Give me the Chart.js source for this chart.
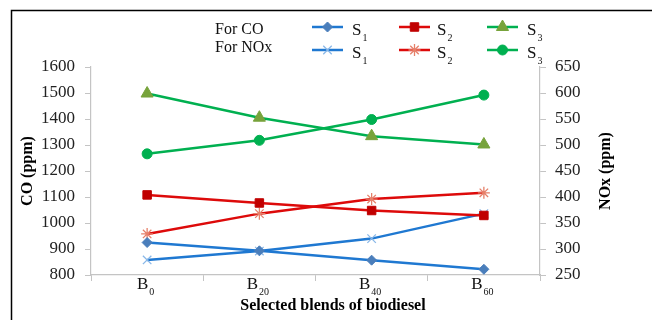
<!DOCTYPE html>
<html>
<head>
<meta charset="utf-8">
<script src="https://cdn.jsdelivr.net/npm/chart.js@4/dist/chart.umd.min.js"></script>
<style>
html,body{margin:0;padding:0;background:#fff;}
#wrap{position:relative;width:652px;height:320px;}
canvas{display:block;}
</style>
</head>
<body>
<div id="wrap"><canvas id="c" width="652" height="320"></canvas></div>
<script>
// ---- data ----
const categories = ['B0', 'B20', 'B40', 'B60'];
const coS1 = [925, 893, 857, 822];
const coS2 = [1108, 1077, 1048, 1029];
const coS3 = [1498, 1405, 1334, 1302];
const noxS1 = [279, 296, 320, 368];
const noxS2 = [329, 368, 396, 408];
const noxS3 = [483, 509, 549, 596];
const coTicks = {min: 800, max: 1600, step: 100};
const noxTicks = {min: 250, max: 650, step: 50};
const seriesNames = ['S1', 'S2', 'S3'];
const groupNames = ['For CO', 'For NOx'];
const axisTitles = {x: 'Selected blends of biodiesel', yl: 'CO (ppm)', yr: 'NOx (ppm)'};

const SERIF = '"Liberation Serif", "Times New Roman", serif';
const BLUE = '#1f78d1', RED = '#dd0a0a', GREEN = '#00b050';

const datasets = [
  {label: 'CO S1', data: coS1, yAxisID: 'yl', borderColor: BLUE, pointStyle: 'rectRot', pointRadius: 5,
   pointBackgroundColor: '#4a7ebb', pointBorderColor: '#4a7ebb', pointBorderWidth: 1},
  {label: 'CO S2', data: coS2, yAxisID: 'yl', borderColor: RED, pointStyle: 'rect', pointRadius: 6,
   pointBackgroundColor: '#c00000', pointBorderColor: '#c00000', pointBorderWidth: 1},
  {label: 'CO S3', data: coS3, yAxisID: 'yl', borderColor: GREEN, pointStyle: 'triangle', pointRadius: 7,
   pointBackgroundColor: '#77a33b', pointBorderColor: '#77a33b', pointBorderWidth: 1},
  {label: 'NOx S1', data: noxS1, yAxisID: 'yr', borderColor: BLUE, pointStyle: 'crossRot', pointRadius: 6,
   pointBackgroundColor: '#8ab8e8', pointBorderColor: '#8ab8e8', pointBorderWidth: 1.3},
  {label: 'NOx S2', data: noxS2, yAxisID: 'yr', borderColor: RED, pointStyle: 'star', pointRadius: 6,
   pointBackgroundColor: '#e6806a', pointBorderColor: '#e6806a', pointBorderWidth: 1.3},
  {label: 'NOx S3', data: noxS3, yAxisID: 'yr', borderColor: GREEN, pointStyle: 'circle', pointRadius: 5,
   pointBackgroundColor: GREEN, pointBorderColor: GREEN, pointBorderWidth: 1}
];
datasets.forEach(d => { d.borderWidth = 2.5; d.tension = 0; d.fill = false; });

function drawMarker(ctx, ds, x, y) {
  const opts = {pointStyle: ds.pointStyle, radius: ds.pointRadius, rotation: 0, borderWidth: ds.pointBorderWidth};
  ctx.save();
  ctx.fillStyle = ds.pointBackgroundColor;
  ctx.strokeStyle = ds.pointBorderColor;
  ctx.lineWidth = ds.pointBorderWidth;
  if (Chart.helpers && Chart.helpers.drawPoint) {
    Chart.helpers.drawPoint(ctx, opts, x, y);
  } else {
    ctx.beginPath(); ctx.arc(x, y, ds.pointRadius, 0, Math.PI * 2); ctx.fill(); ctx.stroke();
  }
  ctx.restore();
}

function drawSub(ctx, base, sub, x, y, bigSize, smallSize, align, bold) {
  const w = bold ? 'bold ' : '';
  ctx.font = w + bigSize + 'px ' + SERIF;
  const wb = ctx.measureText(base).width;
  ctx.font = w + smallSize + 'px ' + SERIF;
  const ws = ctx.measureText(sub).width;
  let x0 = x;
  if (align === 'center') x0 = x - (wb + ws) / 2;
  ctx.textBaseline = 'middle';
  ctx.textAlign = 'left';
  ctx.font = w + bigSize + 'px ' + SERIF;
  ctx.fillText(base, x0, y);
  ctx.font = w + smallSize + 'px ' + SERIF;
  ctx.fillText(sub, x0 + wb + 1, y + bigSize * 0.42);
}

const decor = {
  id: 'decor',
  afterDraw(chart) {
    const ctx = chart.ctx;
    const xs = chart.scales.x, yl = chart.scales.yl, yr = chart.scales.yr;
    ctx.save();
    ctx.fillStyle = '#111';
    // x tick labels with subscripts
    categories.forEach((c, i) => {
      const px = xs.getPixelForTick(i);
      drawSub(ctx, c.charAt(0), c.slice(1), px - 2, xs.top + 10, 17, 10, 'center', false);
    });
    // axis titles
    ctx.fillStyle = '#000';
    ctx.font = 'bold 16px ' + SERIF;
    ctx.textAlign = 'center';
    ctx.textBaseline = 'middle';
    ctx.fillText(axisTitles.x, 333, 306);
    ctx.save();
    ctx.translate(28, (yl.top + yl.bottom) / 2);
    ctx.rotate(-Math.PI / 2);
    ctx.fillText(axisTitles.yl, 0, 0);
    ctx.restore();
    ctx.save();
    ctx.translate(606, (yr.top + yr.bottom) / 2);
    ctx.rotate(-Math.PI / 2);
    ctx.fillText(axisTitles.yr, 0, 0);
    ctx.restore();
    // legend
    ctx.fillStyle = '#111';
    ctx.font = '16px ' + SERIF;
    ctx.textAlign = 'left';
    ctx.fillText(groupNames[0], 215, 30);
    ctx.fillText(groupNames[1], 215, 48);
    const segX = [312, 399, 487];
    const txtX = [352, 437, 527];
    const rowY = [27, 50];
    const txtY = [31, 54];
    for (let r = 0; r < 2; r++) {
      for (let s = 0; s < 3; s++) {
        const ds = datasets[r * 3 + s];
        ctx.save();
        ctx.strokeStyle = ds.borderColor;
        ctx.lineWidth = 2.5;
        ctx.beginPath();
        ctx.moveTo(segX[s], rowY[r]);
        ctx.lineTo(segX[s] + 31, rowY[r]);
        ctx.stroke();
        ctx.restore();
        drawMarker(ctx, ds, segX[s] + 15.5, rowY[r]);
        ctx.fillStyle = '#111';
        const nm = seriesNames[s];
        drawSub(ctx, nm.charAt(0), nm.slice(1), txtX[s], txtY[r], 17, 10, 'left', false);
      }
    }
    // outer frame
    ctx.strokeStyle = '#000';
    ctx.lineWidth = 1.5;
    ctx.beginPath();
    ctx.moveTo(11.5, 320);
    ctx.lineTo(11.5, 10.5);
    ctx.lineTo(652, 10.5);
    ctx.stroke();
    ctx.restore();
  }
};

const axisGrid = {drawOnChartArea: false, drawTicks: true, tickLength: 6, color: '#c4c4c4', lineWidth: 1};
const axisBorder = {display: true, color: '#c4c4c4', width: 1.2};
const plain = v => String(v);

new Chart(document.getElementById('c'), {
  type: 'line',
  data: {labels: categories, datasets: datasets},
  options: {
    responsive: false,
    animation: false,
    devicePixelRatio: 1,
    layout: {padding: {top: 67, left: 0, right: 0, bottom: 0}},
    plugins: {legend: {display: false}, tooltip: {enabled: false}, title: {display: false}},
    scales: {
      x: {
        type: 'category',
        offset: true,
        grid: Object.assign({}, axisGrid, {offset: true}),
        border: axisBorder,
        ticks: {color: 'rgba(0,0,0,0)', font: {family: SERIF, size: 16}},
        afterFit(s) { s.height = 45; }
      },
      yl: {
        position: 'left',
        min: coTicks.min, max: coTicks.max,
        grid: axisGrid,
        border: axisBorder,
        ticks: {stepSize: coTicks.step, callback: plain, color: '#222', padding: 10, font: {family: SERIF, size: 17}},
        afterFit(s) { s.width = 91; }
      },
      yr: {
        position: 'right',
        min: noxTicks.min, max: noxTicks.max,
        grid: axisGrid,
        border: axisBorder,
        ticks: {stepSize: noxTicks.step, callback: plain, color: '#222', padding: 9, font: {family: SERIF, size: 17}},
        afterFit(s) { s.width = 112; }
      }
    }
  },
  plugins: [decor]
});
</script>
</body>
</html>
